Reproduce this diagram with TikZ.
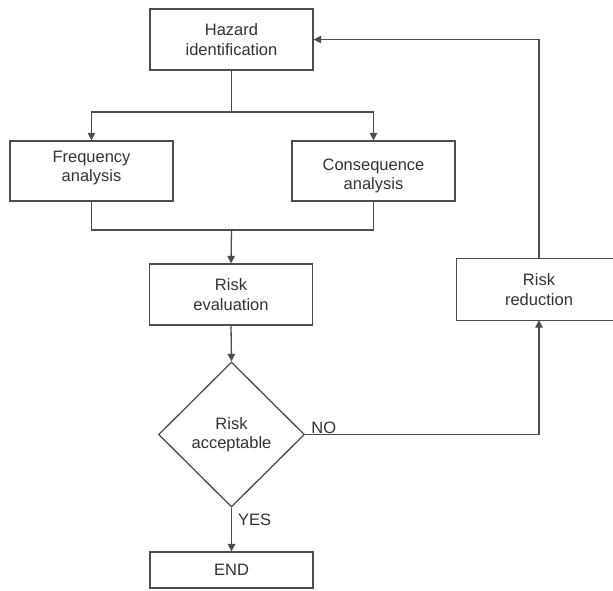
\documentclass[tikz,border=0pt]{standalone}
\usepackage{fontspec}
\setmainfont{Liberation Sans}
\usetikzlibrary{shapes.geometric,arrows.meta}
\definecolor{ln}{HTML}{4D4D4D}
\definecolor{tx}{HTML}{333333}
\begin{document}
\begin{tikzpicture}[x=1pt,y=-1pt,
  box/.style={draw=ln,line width=1.3pt,minimum width=163pt,minimum height=61pt,inner sep=0pt,
    align=center,text=tx,font=\fontsize{16.5}{19.5}\selectfont},
  txt/.style={inner sep=0pt,align=center,text=tx,font=\fontsize{16.5}{19.5}\selectfont},
  dia/.style={draw=ln,line width=1.3pt,diamond,minimum width=146pt,minimum height=145pt,inner sep=0pt,
    align=center,text=tx,font=\fontsize{16.5}{19.5}\selectfont},
  conn/.style={draw=ln,line width=1.3pt},
  arr/.style={conn,-{Triangle[length=7.5pt,width=7.5pt]}}]
\useasboundingbox[fill=white] (0,0) rectangle (613,590);
\node[box] (haz) at (231.5,39.5) {Hazard\\identification};
\node[box,minimum height=60pt] (freq) at (91.5,171) {};
\node[txt] (freqt) at ([yshift=3pt]freq.center) {Frequency\\analysis};
\node[box,minimum height=60pt] (cons) at (373.5,171) {};
\node[txt] (const) at ([yshift=-5pt]cons.center) {Consequence\\analysis};
\node[box] (eval) at (231,294.5) {Risk\\evaluation};
\node[txt,minimum width=164pt,minimum height=61pt] (red) at (539,289.5) {Risk\\reduction};
\draw[conn] (red.north east) -- (red.north west) -- (red.south west) -- (red.south east);
\node[dia] (acc) at (231.5,434.5) {Risk\\acceptable};
\node[box,minimum height=36pt] (end) at (231.5,570) {END};
\coordinate (split) at (231.5,112);
\coordinate (join) at (231.5,230);
\draw[conn] (haz.south) -- (split);
\draw[arr] (split) -| (freq.north);
\draw[arr] (split) -| (cons.north);
\draw[conn] (freq.south) |- (join);
\draw[conn] (cons.south) |- (join);
\draw[arr] (join) -- (eval.north);
\draw[arr] (eval.south) -- (acc.north);
\draw[arr] (acc.east) -| (red.south);
\draw[arr] (red.north) |- (haz.east);
\draw[arr] (acc.south) -- (end.north);
\node[txt,anchor=south west] (no) at ([xshift=6pt,yshift=1pt]acc.east) {NO};
\node[txt,anchor=west] (yes) at (238,520) {YES};
\end{tikzpicture}
\end{document}
